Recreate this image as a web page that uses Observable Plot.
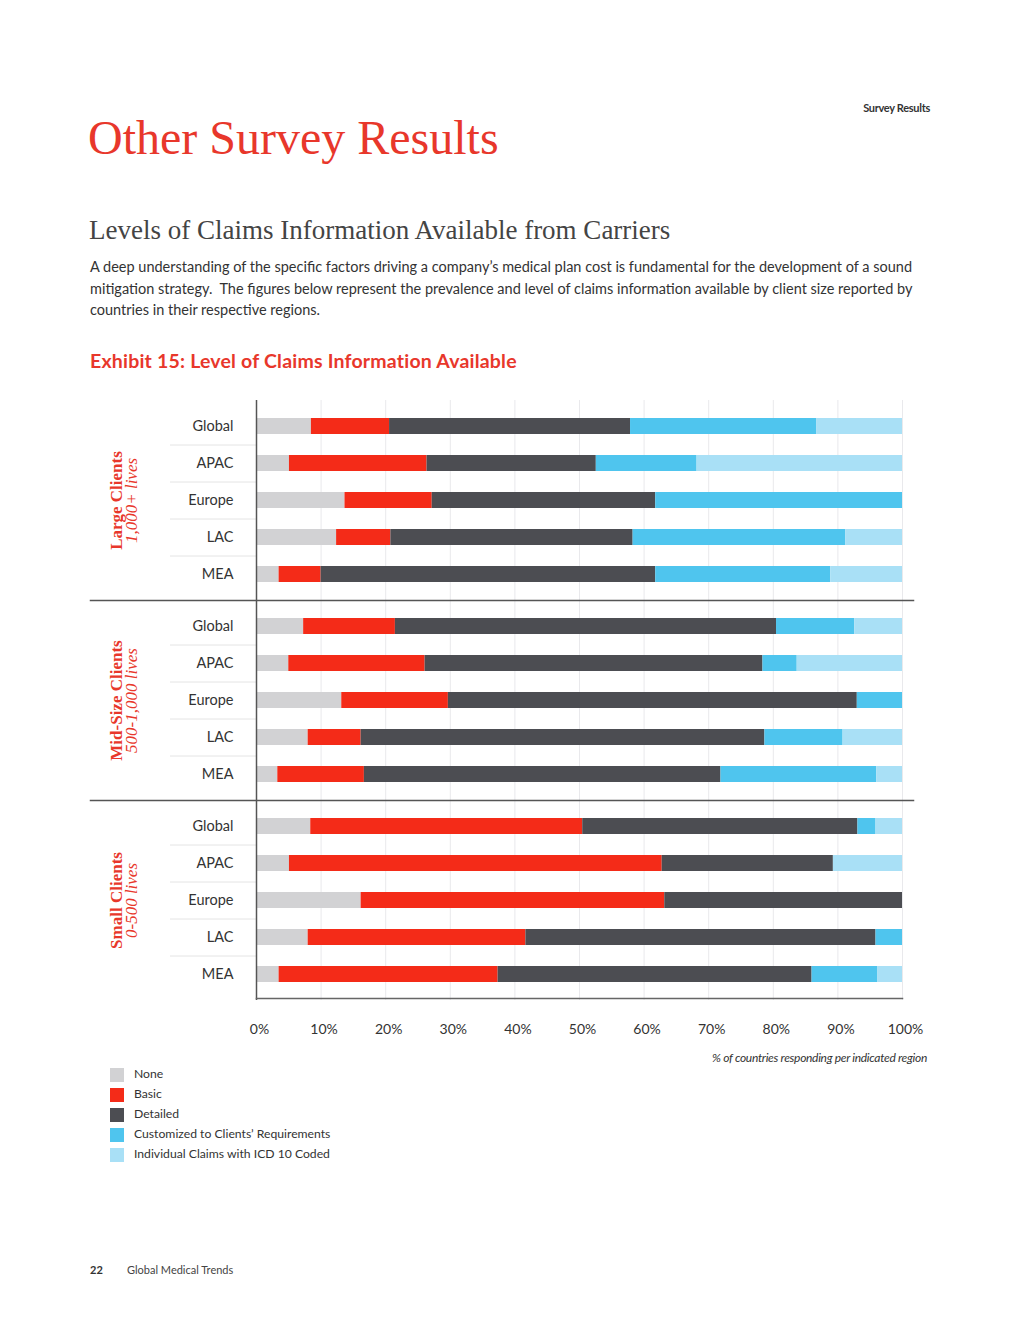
<!DOCTYPE html>
<html><head><meta charset="utf-8">
<script src="https://cdn.jsdelivr.net/npm/d3@7"></script>
<script src="https://cdn.jsdelivr.net/npm/@observablehq/plot@0.6"></script>
<style>
body{margin:0;background:#fff;width:1020px;height:1320px;position:relative;font-family:Lato,"Open Sans",sans-serif;color:#333;overflow:hidden}
.abs{position:absolute;white-space:nowrap}
#chart{position:absolute;left:0;top:390px}
.lg{position:absolute;left:110px;width:14px;height:14px}
.lt{position:absolute;left:134px;font-size:12.2px;color:#333;white-space:nowrap}
</style></head><body>
<div class="abs" style="right:90px;top:101px;font-size:11px;font-weight:bold;color:#333;letter-spacing:-0.3px">Survey Results</div>
<div class="abs" style="left:88px;top:110px;font-family:'Liberation Serif',serif;font-size:48px;color:#e8372b">Other Survey Results</div>
<div class="abs" style="left:89px;top:215px;font-family:'Liberation Serif',serif;font-size:27px;color:#444">Levels of Claims Information Available from Carriers</div>
<div class="abs" style="left:90px;top:256px;font-size:14.5px;line-height:21.5px;color:#333">A deep understanding of the specific factors driving a company’s medical plan cost is fundamental for the development of a sound<br>mitigation strategy.&nbsp; The figures below represent the prevalence and level of claims information available by client size reported by<br>countries in their respective regions.</div>
<div class="abs" style="left:90px;top:349px;font-size:19.5px;font-weight:bold;color:#e8372b;letter-spacing:0.2px">Exhibit 15: Level of Claims Information Available</div>
<div id="chart"></div>
<div class="abs" style="right:93px;top:1050px;font-size:12px;font-style:italic;color:#333;letter-spacing:-0.3px">% of countries responding per indicated region</div>
<div id="legend"></div>
<div class="abs" style="left:90px;top:1263px;font-size:11px;font-weight:bold;color:#333">22</div>
<div class="abs" style="left:127px;top:1263px;font-size:11px;color:#444">Global Medical Trends</div>
<script>
const groups = ["Large", "Mid", "Small"];
const groupTitles = ["Large Clients", "Mid-Size Clients", "Small Clients"];
const groupSubs = ["1,000+ lives", "500-1,000 lives", "0-500 lives"];
const regions = ["Global", "APAC", "Europe", "LAC", "MEA"];
const categories = ["None", "Basic", "Detailed", "Customized to Clients’ Requirements", "Individual Claims with ICD 10 Coded"];
const colors = ["#d2d2d4", "#f42b18", "#4c4d52", "#4fc5ee", "#a9e0f6"];
const xTicks = [0, 10, 20, 30, 40, 50, 60, 70, 80, 90, 100];

// segment sizes (%) per region, in category order
const largeValues = [
  [8.5, 12.1, 37.3, 28.8, 13.3],
  [5.1, 21.3, 26.2, 15.6, 31.8],
  [13.7, 13.5, 34.6, 38.2, 0],
  [12.4, 8.4, 37.5, 32.9, 8.8],
  [3.5, 6.5, 51.8, 27.1, 11.1]
];
const midValues = [
  [7.3, 14.2, 59.0, 12.1, 7.4],
  [5.0, 21.1, 52.3, 5.3, 16.3],
  [13.2, 16.5, 63.3, 7.0, 0],
  [8.0, 8.2, 62.5, 12.1, 9.2],
  [3.3, 13.4, 55.2, 24.1, 4.0]
];
const smallValues = [
  [8.4, 42.1, 42.6, 2.8, 4.1],
  [5.1, 57.7, 26.5, 0, 10.7],
  [16.2, 47.0, 36.8, 0, 0],
  [8.0, 33.7, 54.2, 4.1, 0],
  [3.5, 33.9, 48.6, 10.2, 3.8]
];

const valuesByGroup = [largeValues, midValues, smallValues];
const table = [];
groups.forEach((g, gi) => regions.forEach((r, ri) => categories.forEach((c, ci) => {
  table.push({group: g, region: r, category: c, value: valuesByGroup[gi][ri][ci]});
})));

const facetH = 200;
const yPadIn = 0.56, yPadOut = 0.48;
const step = facetH / (regions.length - yPadIn + 2 * yPadOut);

const chart = Plot.plot({
  width: 1020,
  height: 10 + facetH * groups.length + 40,
  marginLeft: 256, marginRight: 118, marginTop: 10, marginBottom: 40,
  style: {fontFamily: "Lato, 'Open Sans', sans-serif", color: "#333", background: "transparent", overflow: "visible"},
  x: {domain: [0, 100], axis: null},
  y: {domain: regions, paddingInner: yPadIn, paddingOuter: yPadOut, axis: null},
  fy: {domain: groups, padding: 0, axis: null},
  color: {domain: categories, range: colors},
  marks: [
    Plot.gridX(xTicks, {stroke: "#e9e9ec", strokeOpacity: 1}),
    Plot.gridY(regions.slice(0, 4), {dy: step / 2, insetLeft: -86, insetRight: 646, stroke: "#e4e4e4", strokeOpacity: 1}),
    Plot.barX(table, Plot.stackX({y: "region", fy: "group", x: "value", fill: "category", order: categories})),
    Plot.ruleX([0], {stroke: "#555", strokeWidth: 1.5}),
    Plot.frame({anchor: "bottom", fy: () => "Large", insetLeft: -166, insetRight: -11, stroke: "#555", strokeWidth: 1.5}),
    Plot.frame({anchor: "bottom", fy: () => "Mid", insetLeft: -166, insetRight: -11, stroke: "#555", strokeWidth: 1.5}),
    Plot.frame({anchor: "bottom", fy: () => "Small", insetBottom: 2, stroke: "#666", strokeWidth: 1.5}),
    Plot.axisY({tickSize: 0, tickPadding: 23, fontSize: 14.5, label: null}),
    Plot.axisX(xTicks, {tickSize: 0, tickPadding: 24, fontSize: 14, dx: 3, label: null, tickFormat: d => d + "%"}),
    Plot.text(groups, {fy: d => d, text: (d, i) => groupTitles[i], frameAnchor: "left", textAnchor: "middle", rotate: -90, dx: -140, fontFamily: "Liberation Serif, serif", fontWeight: "bold", fontSize: 17, fill: "#e8372b"}),
    Plot.text(groups, {fy: d => d, text: (d, i) => groupSubs[i], frameAnchor: "left", textAnchor: "middle", rotate: -90, dx: -125, fontFamily: "Liberation Serif, serif", fontStyle: "italic", fontSize: 17, fill: "#e8372b"})
  ]
});
document.getElementById("chart").appendChild(chart);

const legend = document.getElementById("legend");
categories.forEach((c, i) => {
  const sw = document.createElement("div");
  sw.className = "lg"; sw.style.top = (1068 + i * 20) + "px"; sw.style.background = colors[i];
  const t = document.createElement("div");
  t.className = "lt"; t.style.top = (1066 + i * 20) + "px"; t.textContent = c;
  legend.appendChild(sw); legend.appendChild(t);
});
</script>
</body></html>
